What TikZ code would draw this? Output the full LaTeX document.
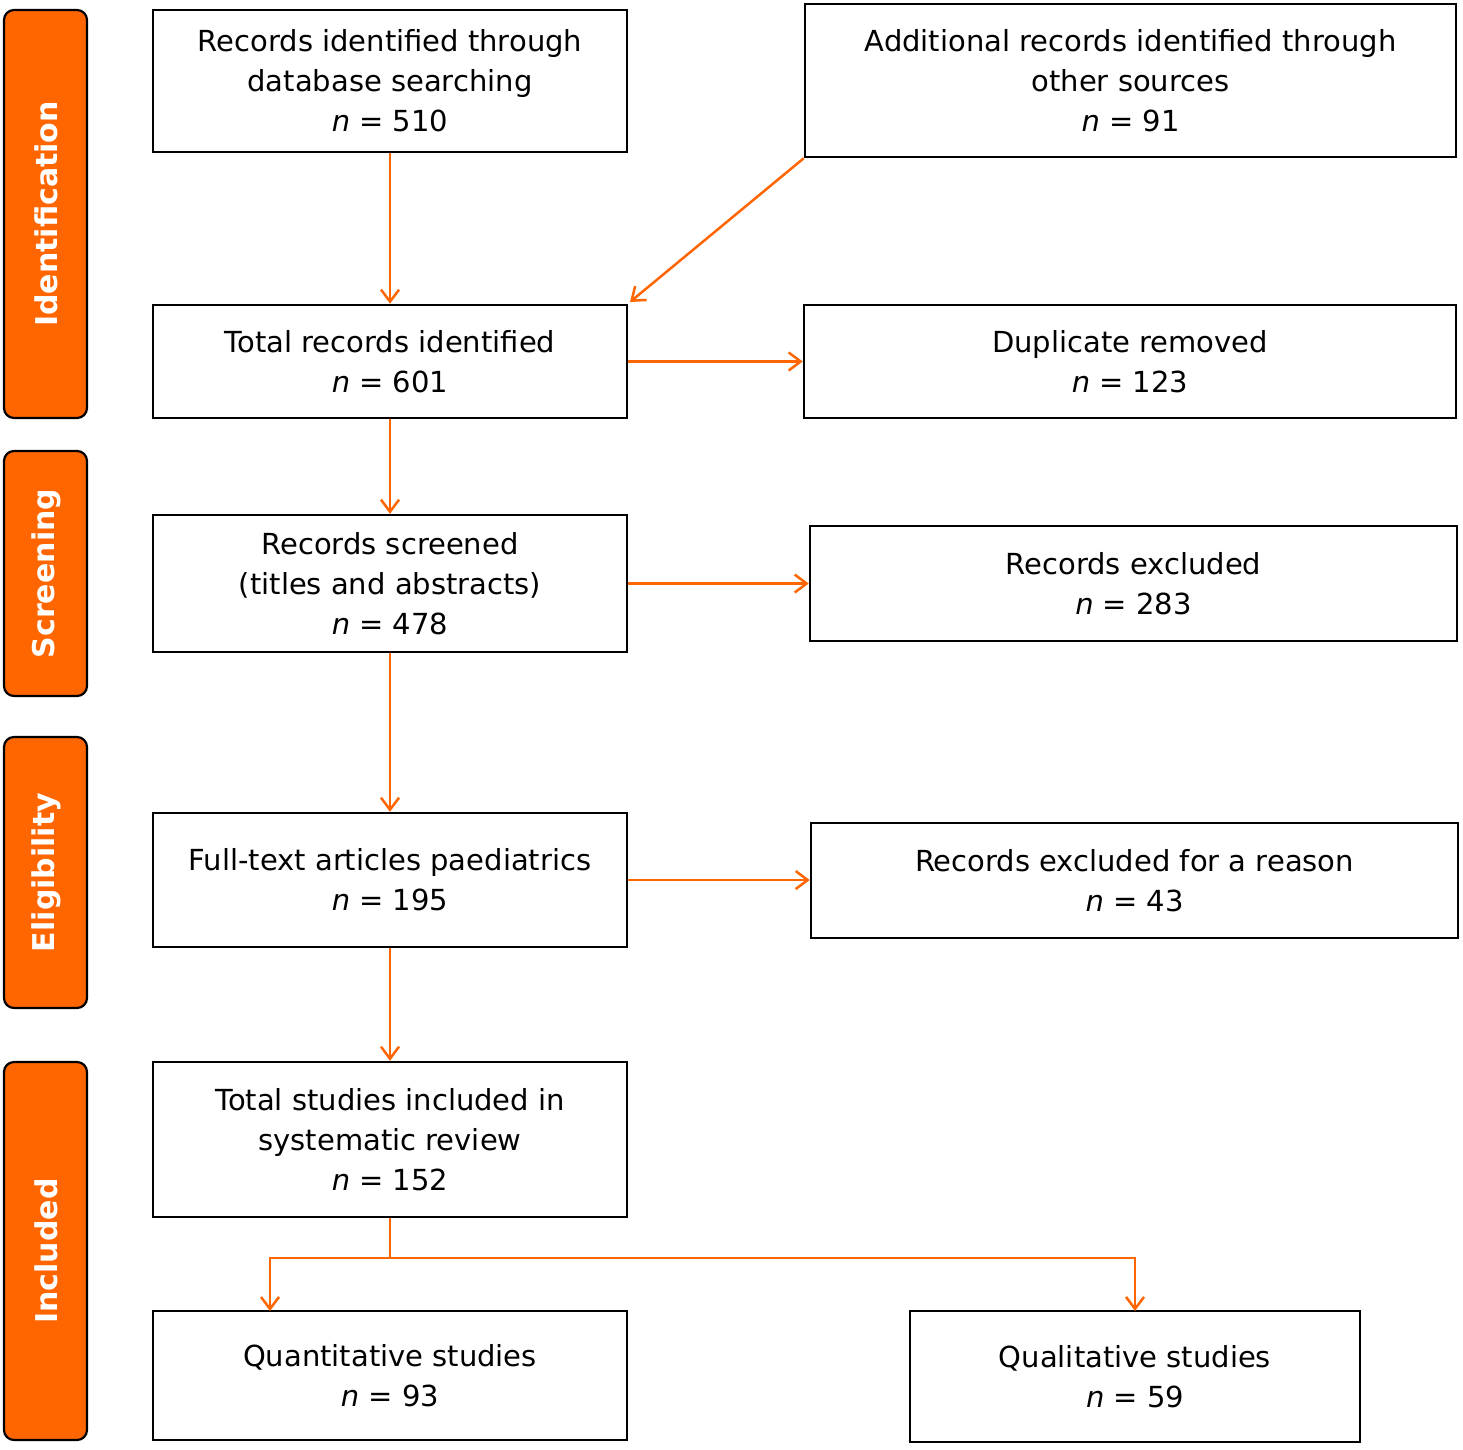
\documentclass[tikz,border=0pt]{standalone}
\usepackage{fontspec}
\setmainfont{DejaVu Sans}
\usetikzlibrary{arrows.meta}
\definecolor{org}{HTML}{FF6600}
\begin{document}
\begin{tikzpicture}[x=1pt,y=-1pt,
 box/.style={draw,line width=2.5pt,align=center,font=\fontsize{29}{40}\selectfont,inner sep=0pt},
 side/.style={draw,fill=org,line width=2.2pt,rounded corners=10pt},
 slab/.style={text=white,font=\bfseries\fontsize{30}{34}\selectfont,rotate=90},
 arr/.style={org,line width=2.5pt,-{Straight Barb[length=12pt,width=18pt,line width=2.5pt]}}]
\useasboundingbox (0,0) rectangle (1463,1449);
\newcommand{\bx}[6]{\node[box,minimum width=#4-#2,minimum height=#5-#3] (#1) at ({(#2+#4)/2},{(#3+#5)/2}) {#6};}
\bx{A}{153}{10}{627}{152}{Records identified through\\database searching\\\textit{n} = 510}
\bx{B}{805}{4}{1456}{157}{Additional records identified through\\other sources\\\textit{n} = 91}
\bx{C}{153}{305}{627}{418}{Total records identified\\\textit{n} = 601}
\bx{D}{804}{305}{1456}{418}{Duplicate removed\\\textit{n} = 123}
\bx{E}{153}{515}{627}{652}{Records screened\\(titles and abstracts)\\\textit{n} = 478}
\bx{F}{810}{526}{1457}{641}{Records excluded\\\textit{n} = 283}
\bx{G}{153}{813}{627}{947}{Full-text articles paediatrics\\\textit{n} = 195}
\bx{H}{811}{823}{1458}{938}{Records excluded for a reason\\\textit{n} = 43}
\bx{I}{153}{1062}{627}{1217}{Total studies included in\\systematic review\\\textit{n} = 152}
\bx{J}{153}{1311}{627}{1440}{Quantitative studies\\\textit{n} = 93}
\bx{K}{910}{1311}{1360}{1442}{Qualitative studies\\\textit{n} = 59}
\newcommand{\sd}[4]{\draw[side] (4,#2) rectangle (87,#3); \node[slab] (#1) at (46,{(#2+#3)/2}) {#4};}
\sd{s1}{10}{418}{Identification}
\sd{s2}{451}{696}{Screening}
\sd{s3}{737}{1008}{Eligibility}
\sd{s4}{1062}{1440}{Included}
\draw[arr] (A.south) -- (C.north);
\draw[arr] (B.south west) -- (630,302);
\draw[arr] (C.east) -- (D.west);
\draw[arr] (C.south) -- (E.north);
\draw[arr] (E.east) -- (E.east -| F.west);
\draw[arr] (E.south) -- (G.north);
\draw[arr] (G.east) -- (G.east -| H.west);
\draw[arr] (G.south) -- (I.north);
\coordinate (m) at (390,1258);
\draw[org,line width=2.5pt] (I.south) -- (m);
\draw[arr] (m) -| (270,1311);
\draw[arr] (m) -| (1135,1311);
\end{tikzpicture}
\end{document}
